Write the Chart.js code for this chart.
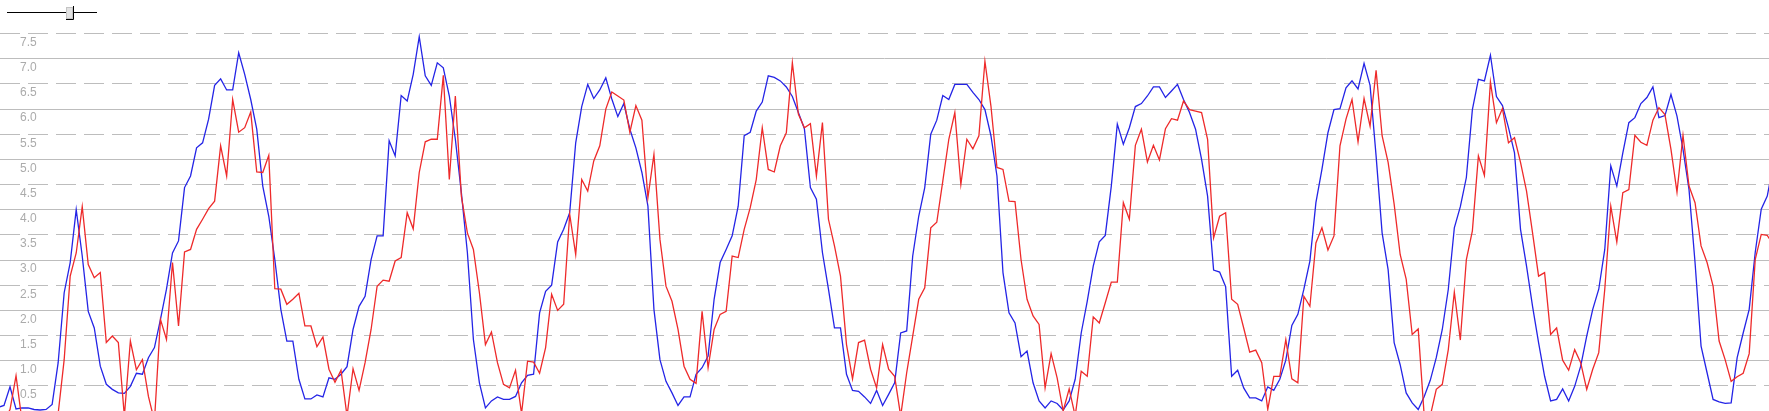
<!DOCTYPE html>
<html>
<head>
<meta charset="utf-8">
<script src="https://cdn.jsdelivr.net/npm/chart.js@4.4.0/dist/chart.umd.min.js"></script>
<style>
  html, body { margin: 0; padding: 0; background: #fff; }
  #wrap { width: 1769px; height: 411px; position: relative; }
</style>
</head>
<body>
<div id="wrap"><canvas id="waveChart"></canvas></div>
<script>
// blue series, one value per sample (first sample sits just left of the frame)
const blueSeries = [
  0.07, 0.11, 0.48, 0.04, 0.06, 0.06, 0.03, 0.02, 0.03, 0.13,
  0.96, 2.35, 2.95, 4.0, 3.08, 1.98, 1.65, 0.89, 0.53, 0.43,
  0.36, 0.35, 0.49, 0.75, 0.73, 1.06, 1.26, 1.82, 2.42, 3.14,
  3.38, 4.44, 4.67, 5.23, 5.33, 5.80, 6.47, 6.60, 6.38, 6.38,
  7.12, 6.69, 6.19, 5.60, 4.47, 3.87, 3.01, 2.02, 1.39, 1.39,
  0.63, 0.24, 0.24, 0.32, 0.28, 0.66, 0.63, 0.73, 0.88, 1.62,
  2.08, 2.28, 3.01, 3.48, 3.48, 5.37, 5.07, 6.27, 6.16, 6.69,
  7.44, 6.66, 6.47, 6.92, 6.82, 6.26, 5.40, 4.34, 3.15, 1.42,
  0.56, 0.06, 0.20, 0.28, 0.23, 0.23, 0.29, 0.56, 0.71, 0.73,
  1.95, 2.38, 2.50, 3.36, 3.61, 3.94, 5.33, 6.05, 6.49, 6.21,
  6.38, 6.62, 6.20, 5.85, 6.11, 5.60, 5.23, 4.74, 4.07, 2.02,
  1.02, 0.59, 0.36, 0.11, 0.28, 0.28, 0.73, 0.86, 1.09, 2.22,
  2.95, 3.21, 3.48, 4.07, 5.47, 5.54, 5.96, 6.14, 6.66, 6.63,
  6.56, 6.44, 6.25, 5.93, 5.61, 4.44, 4.21, 3.15, 2.42, 1.65,
  1.65, 0.73, 0.41, 0.39, 0.28, 0.15, 0.41, 0.11, 0.33, 0.56,
  1.55, 1.59, 3.08, 3.87, 4.44, 5.50, 5.78, 6.27, 6.19, 6.49,
  6.49, 6.49, 6.33, 6.19, 5.99, 5.47, 4.67, 2.75, 1.95, 1.75,
  1.08, 1.19, 0.56, 0.20, 0.06, 0.20, 0.15, 0.02, 0.20, 0.63,
  1.55, 2.18, 2.88, 3.36, 3.49, 4.47, 5.70, 5.30, 5.63, 6.05,
  6.11, 6.26, 6.44, 6.44, 6.23, 6.36, 6.49, 6.19, 5.93, 5.60,
  5.00, 4.27, 2.80, 2.76, 2.47, 0.69, 0.81, 0.46, 0.26, 0.26,
  0.20, 0.48, 0.41, 0.63, 1.01, 1.70, 1.92, 2.42, 2.98, 4.14,
  4.80, 5.53, 5.99, 6.01, 6.42, 6.56, 6.40, 6.91, 6.47, 5.07,
  3.54, 2.81, 1.36, 0.92, 0.36, 0.16, 0.03, 0.29, 0.61, 1.06,
  1.62, 2.42, 3.64, 4.06, 4.64, 5.99, 6.59, 6.56, 7.07, 6.25,
  6.07, 5.63, 5.13, 3.61, 2.88, 2.08, 1.36, 0.69, 0.20, 0.23,
  0.44, 0.20, 0.49, 0.89, 1.49, 2.02, 2.42, 3.21, 4.87, 4.47,
  5.13, 5.73, 5.83, 6.11, 6.23, 6.44, 5.83, 5.87, 6.29, 5.86,
  5.20, 4.40, 2.95, 1.29, 0.76, 0.23, 0.18, 0.15, 0.16, 1.06,
  1.55, 2.02, 3.15, 4.01, 4.27, 4.9
];

// red series, same samples; values under 0 run off the bottom of the frame
const redSeries = [
  -0.2, -0.2, 0.03, 0.7, -0.2, -0.2, -0.2, -0.2, -0.2, -0.2,
  -0.05, 1.02, 2.68, 3.14, 4.06, 2.91, 2.65, 2.75, 1.36, 1.49,
  1.36, -0.1, 1.39, 0.82, 1.02, 0.29, -0.2, 1.82, 1.42, 2.95,
  1.69, 3.16, 3.21, 3.61, 3.81, 4.02, 4.17, 5.27, 4.67, 6.19,
  5.54, 5.63, 5.94, 4.75, 4.74, 5.08, 2.43, 2.42, 2.12, 2.22,
  2.34, 1.69, 1.69, 1.28, 1.47, 0.83, 0.57, 0.81, -0.1, 0.84,
  0.41, 0.96, 1.62, 2.48, 2.60, 2.58, 2.98, 3.05, 3.94, 3.62,
  4.74, 5.35, 5.40, 5.40, 6.67, 4.60, 6.26, 4.27, 3.54, 3.21,
  2.35, 1.32, 1.57, 0.96, 0.53, 0.46, 0.81, -0.05, 0.99, 0.97,
  0.75, 1.26, 2.32, 2.00, 2.12, 3.91, 3.11, 4.60, 4.37, 4.97,
  5.27, 6.00, 6.34, 6.26, 6.18, 5.54, 6.07, 5.78, 4.24, 5.10,
  3.41, 2.48, 2.18, 1.62, 0.89, 0.63, 0.55, 1.98, 0.86, 1.62,
  1.92, 1.98, 3.08, 3.05, 3.61, 4.04, 4.60, 5.63, 4.80, 4.75,
  5.27, 5.53, 6.92, 5.90, 5.63, 5.71, 4.67, 5.73, 3.81, 3.28,
  2.68, 1.32, 0.64, 1.36, 1.41, 0.83, 0.46, 1.32, 0.83, 0.69,
  -0.1, 0.76, 1.49, 2.22, 2.45, 3.64, 3.75, 4.57, 5.40, 5.93,
  4.50, 5.40, 5.21, 5.47, 6.95, 6.06, 4.84, 4.80, 4.17, 4.16,
  3.01, 2.22, 1.89, 1.72, 0.46, 1.14, 0.66, 0.0, 0.44, -0.1,
  0.79, 0.69, 1.87, 1.75, 2.15, 2.56, 2.56, 4.14, 3.81, 5.28,
  5.60, 4.95, 5.28, 4.99, 5.61, 5.81, 5.78, 6.16, 5.99, 5.96,
  5.93, 5.40, 3.44, 3.87, 3.94, 2.22, 2.12, 1.65, 1.17, 1.21,
  0.96, 0.03, 0.69, 0.69, 1.42, 0.64, 0.56, 2.28, 2.08, 3.34,
  3.64, 3.20, 3.48, 5.27, 5.80, 6.19, 5.35, 6.21, 5.66, 6.77,
  5.47, 4.94, 4.11, 3.11, 2.62, 1.52, 1.63, -0.1, -0.1, 0.43,
  0.53, 1.22, 2.36, 1.41, 3.01, 3.58, 5.07, 4.68, 6.54, 5.73,
  6.01, 5.33, 5.43, 4.94, 4.37, 3.54, 2.68, 2.75, 1.52, 1.65,
  1.01, 0.81, 1.22, 0.96, 0.43, 0.83, 1.16, 2.42, 4.07, 3.36,
  4.34, 4.40, 5.48, 5.34, 5.28, 5.78, 6.03, 5.89, 5.20, 4.35,
  5.48, 4.47, 4.14, 3.28, 2.95, 2.48, 1.39, 1.02, 0.59, 0.68,
  0.75, 1.14, 3.01, 3.51, 3.49, 3.3
];

// sample numbers for the x axis
const sampleNo = blueSeries.map((_, i) => i);

// tick labels: whole numbers get solid lines, halves get dashed ones
const solidTicks = [1, 2, 3, 4, 5, 6, 7];
const dashedTicks = [0.5, 1.5, 2.5, 3.5, 4.5, 5.5, 6.5, 7.5];

const Y_MAX = 7.79;
const GRID_COLOR = "#bdbdbd";
const LABEL_COLOR = "#ababab";

function yAxis(tickList, dash) {
  return {
    type: "linear",
    position: "left",
    min: 0,
    max: Y_MAX,
    afterBuildTicks: scale => {
      scale.ticks = tickList.map(v => ({ value: v }));
    },
    // labels sit inside the plot, so the axis takes no room of its own
    afterFit: scale => {
      scale.width = 0;
      scale.paddingTop = 0;
      scale.paddingBottom = 0;
    },
    grid: { color: GRID_COLOR, lineWidth: 1, drawTicks: false, borderDash: dash },
    border: { display: false, dash: dash },
    ticks: {
      mirror: true,
      padding: 20,
      labelOffset: 9,
      color: LABEL_COLOR,
      font: { family: "'Liberation Sans', Arial, sans-serif", size: 12 },
      callback: v => Number(v).toFixed(1)
    }
  };
}

// little slider-like key in the top left corner
const sliderKey = {
  id: "sliderKey",
  afterDraw(chart) {
    const c = chart.ctx;
    c.save();
    c.lineWidth = 1;
    c.strokeStyle = "#000";
    c.beginPath();
    c.moveTo(7, 12.5);
    c.lineTo(97, 12.5);
    c.stroke();
    c.fillStyle = "#e2e2e2";
    c.fillRect(66, 7, 7, 12);
    c.strokeStyle = "#c4c4c4";
    c.strokeRect(66.5, 7.5, 6, 11);
    c.strokeStyle = "#000";
    c.beginPath();
    c.moveTo(73.5, 6);
    c.lineTo(73.5, 19.5);
    c.lineTo(66, 19.5);
    c.stroke();
    c.restore();
  }
};

new Chart(document.getElementById("waveChart"), {
  type: "line",
  data: {
    labels: sampleNo,
    datasets: [
      {
        label: "red",
        data: redSeries,
        borderColor: "#ee2a2a",
        borderWidth: 1.3,
        pointRadius: 0,
        tension: 0,
        fill: false
      },
      {
        label: "blue",
        data: blueSeries,
        borderColor: "#2424e6",
        borderWidth: 1.3,
        pointRadius: 0,
        tension: 0,
        fill: false
      }
    ]
  },
  options: {
    responsive: true,
    maintainAspectRatio: false,
    animation: false,
    layout: { padding: { top: 19, left: 0, right: 0, bottom: 0 } },
    plugins: {
      legend: { display: false },
      tooltip: { enabled: false }
    },
    scales: {
      x: { type: "linear", display: false, min: 0.336, max: 294.29 },
      y: yAxis(solidTicks, []),
      y2: yAxis(dashedTicks, [20, 8])
    }
  },
  plugins: [sliderKey]
});
</script>
</body>
</html>
